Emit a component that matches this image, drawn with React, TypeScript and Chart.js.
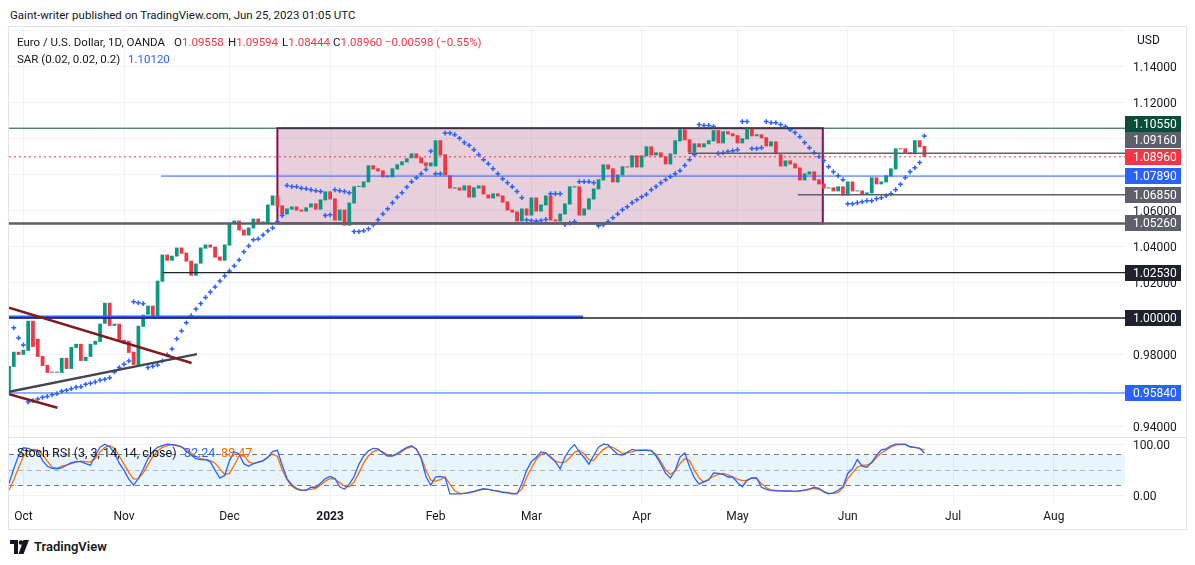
import React, { useEffect, useRef } from 'react';
import { Chart, registerables } from 'chart.js';

Chart.register(...registerables);

const FONT = 'Roboto, "Liberation Sans", sans-serif';

// ---- Candle data (daily bars, Sep 28 2022 -> Jun 23 2023), x = bar index ----
const candleOpen = [
  0.9584, 0.9729, 0.9813, 0.9796, 0.9818, 0.9985, 0.9885, 0.9790, 0.9740, 0.9703,
  0.9697, 0.9696, 0.9779, 0.9718, 0.9835, 0.9857, 0.9762, 0.9785, 0.9852, 0.9868,
  0.9969, 1.0085, 0.9957, 0.9969, 0.9879, 0.9874, 0.9813, 0.9740, 0.9952, 1.0019,
  1.0069, 1.0002, 1.0202, 1.0353, 1.0319, 1.0342, 1.0392, 1.0364, 1.0319, 1.0236,
  1.0303, 1.0386, 1.0409, 1.0397, 1.0342, 1.0319, 1.0403, 1.0526, 1.0542, 1.0492,
  1.0459, 1.0498, 1.0553, 1.0526, 1.0526, 1.0626, 1.0681, 1.0626, 1.0576, 1.0603,
  1.0620, 1.0603, 1.0592, 1.0615, 1.0637, 1.0603, 1.0654, 1.0704, 1.0665, 1.0542,
  1.0603, 1.0514, 1.0637, 1.0729, 1.0726, 1.0754, 1.0849, 1.0832, 1.0821, 1.0782,
  1.0782, 1.0826, 1.0849, 1.0865, 1.0888, 1.0915, 1.0893, 1.0865, 1.0843, 1.0843,
  1.0988, 1.0910, 1.0793, 1.0720, 1.0726, 1.0709, 1.0737, 1.0670, 1.0720, 1.0737,
  1.0687, 1.0665, 1.0693, 1.0681, 1.0648, 1.0603, 1.0592, 1.0537, 1.0609, 1.0570,
  1.0670, 1.0592, 1.0626, 1.0681, 1.0548, 1.0537, 1.0576, 1.0631, 1.0726, 1.0732,
  1.0570, 1.0603, 1.0659, 1.0715, 1.0765, 1.0854, 1.0832, 1.0754, 1.0793, 1.0843,
  1.0837, 1.0904, 1.0837, 1.0899, 1.0954, 1.0904, 1.0921, 1.0899, 1.0854, 1.0910,
  1.0982, 1.1049, 1.0993, 1.0921, 1.0971, 1.0949, 1.0966, 1.0982, 1.1044, 1.0971,
  1.1038, 1.1027, 1.1016, 1.0971, 1.0993, 1.1060, 1.1010, 1.1021, 1.1005, 1.0954,
  1.0982, 1.0910, 1.0843, 1.0876, 1.0860, 1.0837, 1.0765, 1.0798, 1.0815, 1.0771,
  1.0748, 1.0720, 1.0726, 1.0704, 1.0732, 1.0681, 1.0759, 1.0704, 1.0709, 1.0687,
  1.0693, 1.0782, 1.0743, 1.0754, 1.0787, 1.0826, 1.0943, 1.0943, 1.0921, 1.0910,
  1.0988, 1.09558,
];

const candleClose = [
  0.9734, 0.9813, 0.9796, 0.9824, 0.9985, 0.9840, 0.9785, 0.9734, 0.9696, 0.9697,
  0.9703, 0.9779, 0.9718, 0.9840, 0.9857, 0.9762, 0.9785, 0.9857, 0.9874, 0.9969,
  1.0085, 0.9957, 0.9969, 0.9879, 0.9857, 0.9807, 0.9740, 0.9957, 1.0019, 1.0069,
  1.0002, 1.0208, 1.0353, 1.0319, 1.0347, 1.0392, 1.0358, 1.0314, 1.0236, 1.0303,
  1.0392, 1.0409, 1.0392, 1.0336, 1.0319, 1.0409, 1.0526, 1.0542, 1.0487, 1.0459,
  1.0503, 1.0553, 1.0526, 1.0537, 1.0631, 1.0681, 1.0620, 1.0576, 1.0609, 1.0620,
  1.0598, 1.0592, 1.0615, 1.0637, 1.0603, 1.0659, 1.0704, 1.0659, 1.0542, 1.0603,
  1.0514, 1.0642, 1.0732, 1.0734, 1.0759, 1.0849, 1.0826, 1.0815, 1.0782, 1.0793,
  1.0832, 1.0854, 1.0871, 1.0888, 1.0915, 1.0888, 1.0860, 1.0843, 1.0865, 1.0988,
  1.0904, 1.0793, 1.0720, 1.0726, 1.0709, 1.0737, 1.0670, 1.0726, 1.0737, 1.0687,
  1.0665, 1.0693, 1.0676, 1.0642, 1.0598, 1.0587, 1.0537, 1.0609, 1.0570, 1.0670,
  1.0592, 1.0631, 1.0681, 1.0542, 1.0537, 1.0581, 1.0637, 1.0732, 1.0732, 1.0570,
  1.0609, 1.0665, 1.0720, 1.0771, 1.0854, 1.0826, 1.0754, 1.0798, 1.0843, 1.0837,
  1.0904, 1.0837, 1.0904, 1.0954, 1.0904, 1.0921, 1.0893, 1.0854, 1.0915, 1.0988,
  1.1049, 1.0988, 1.0921, 1.0971, 1.0949, 1.0971, 1.0988, 1.1044, 1.0971, 1.1038,
  1.1021, 1.1010, 1.0971, 1.0999, 1.1060, 1.1010, 1.1021, 1.0999, 1.0954, 1.0982,
  1.0910, 1.0843, 1.0876, 1.0854, 1.0832, 1.0765, 1.0804, 1.0815, 1.0765, 1.0743,
  1.0720, 1.0726, 1.0704, 1.0732, 1.0681, 1.0759, 1.0704, 1.0709, 1.0687, 1.0698,
  1.0782, 1.0743, 1.0759, 1.0793, 1.0832, 1.0943, 1.0938, 1.0915, 1.0910, 1.0988,
  1.0949, 1.0896,
];

// Parabolic SAR (0.02, 0.02, 0.2)
const sarValues = [
  null, 0.9946, 0.9890, 0.9851, 0.9534, 0.9542, 0.9550, 0.9560, 0.9565, 0.9574,
  0.9580, 0.9593, 0.9599, 0.9608, 0.9616, 0.9619, 0.9632, 0.9638, 0.9645, 0.9655,
  0.9660, 0.9669, 0.9701, 0.9725, 0.9744, 0.9762, 1.0091, 1.0085, 1.0080, 0.9725,
  0.9733, 0.9740, 0.9762, 0.9796, 0.9829, 0.9885, 0.9929, 0.9974, 1.0013, 1.0050,
  1.0081, 1.0115, 1.0145, 1.0173, 1.0206, 1.0234, 1.0262, 1.0290, 1.0323, 1.0368,
  1.0401, 1.0435, 1.0440, 1.0462, 1.0485, 1.0501, 1.0536, 1.0570, 1.0737, 1.0731,
  1.0730, 1.0722, 1.0719, 1.0713, 1.0708, 1.0704, 1.0570, 1.0574, 1.0713, 1.0708,
  1.0704, 1.0696, 1.0481, 1.0481, 1.0486, 1.0496, 1.0518, 1.0546, 1.0579, 1.0607,
  1.0641, 1.0672, 1.0696, 1.0728, 1.0758, 1.0780, 1.0802, 1.0826, 1.0928, 1.0802,
  1.0802, 1.1028, 1.1028, 1.1019, 1.0999, 1.0975, 1.0960, 1.0936, 1.0908, 1.0880,
  1.0858, 1.0830, 1.0802, 1.0774, 1.0752, 1.0730, 1.0704, 1.0669, 1.0546, 1.0542,
  1.0538, 1.0542, 1.0548, 1.0691, 1.0691, 1.0691, 1.0520, 1.0528, 1.0536, 1.0758,
  1.0758, 1.0758, 1.0752, 1.0513, 1.0518, 1.0536, 1.0557, 1.0579, 1.0602, 1.0618,
  1.0641, 1.0657, 1.0674, 1.0687, 1.0713, 1.0731, 1.0752, 1.0769, 1.0786, 1.0802,
  1.0819, 1.0848, 1.0880, 1.0908, 1.1075, 1.1070, 1.1070, 1.1064, 1.0915, 1.0919,
  1.0925, 1.0930, 1.0936, 1.1092, 1.1092, 1.0942, 1.0942, 1.0947, 1.1092, 1.1086,
  1.1086, 1.1075, 1.1064, 1.1047, 1.1031, 1.1008, 1.0975, 1.0947, 1.0919, 1.0897,
  1.0875, 1.0841, 1.0813, 1.0791, 1.0769, 1.0635, 1.0635, 1.0641, 1.0646, 1.0652,
  1.0652, 1.0663, 1.0669, 1.0680, 1.0691, 1.0713, 1.0743, 1.0780, 1.0813, 1.0836,
  1.0864, 1.1012,
];

// Stoch RSI (3, 3, 14, 14, close)
const stochK = [
  23, 52, 78, 93, 92, 88, 86, 68, 57, 53,
  52, 54, 59, 64, 66, 66, 62, 59, 78, 94,
  100, 95, 83, 63, 49, 32, 20, 33, 51, 72,
  86, 94, 97, 100, 99, 97, 95, 86, 79, 72,
  70, 70, 66, 49, 34, 39, 68, 85, 81, 62,
  57, 62, 65, 68, 74, 86, 88, 59, 33, 21,
  14, 10, 10, 16, 16, 24, 33, 37, 33, 17,
  12, 22, 37, 61, 77, 87, 92, 91, 83, 77,
  77, 82, 88, 94, 97, 90, 72, 37, 20, 36,
  37, 35, 3, 3, 3, 4, 6, 8, 11, 13,
  12, 10, 8, 6, 5, 3, 3, 23, 49, 66,
  74, 85, 83, 74, 66, 52, 75, 90, 99, 85,
  74, 61, 78, 94, 100, 99, 89, 80, 79, 84,
  90, 88, 88, 88, 87, 77, 61, 43, 34, 49,
  75, 83, 56, 34, 22, 27, 30, 44, 43, 41,
  36, 36, 25, 17, 30, 34, 34, 16, 12, 10,
  9, 9, 9, 9, 8, 9, 10, 12, 16, 14,
  7, 3, 5, 10, 17, 43, 52, 70, 57, 55,
  65, 78, 89, 91, 97, 100, 100, 100, 95, 94,
  92, 82.24,
];

const stochD = [
  10, 30, 54, 76, 86, 90, 89, 80, 67, 55,
  53, 57, 59, 62, 65, 67, 66, 65, 72, 85,
  94, 97, 92, 77, 61, 45, 32, 33, 44, 60,
  76, 87, 94, 97, 99, 98, 95, 90, 83, 76,
  72, 70, 68, 63, 52, 41, 43, 59, 77, 78,
  66, 62, 65, 67, 75, 81, 76, 50, 31, 18,
  12, 10, 11, 12, 14, 20, 28, 33, 32, 25,
  18, 17, 26, 44, 63, 77, 86, 89, 85, 79,
  78, 80, 86, 92, 95, 91, 74, 49, 30, 28,
  31, 36, 22, 9, 4, 4, 5, 7, 10, 12,
  12, 10, 9, 7, 6, 4, 4, 12, 35, 53,
  70, 80, 83, 76, 67, 64, 65, 73, 84, 88,
  81, 70, 68, 80, 90, 95, 94, 88, 82, 83,
  85, 88, 89, 89, 88, 80, 66, 50, 41, 48,
  62, 72, 68, 50, 34, 26, 32, 37, 41, 43,
  40, 36, 32, 29, 29, 34, 33, 23, 15, 11,
  10, 9, 8, 8, 8, 9, 11, 13, 14, 12,
  8, 4, 4, 6, 15, 33, 44, 55, 59, 59,
  63, 74, 83, 89, 94, 98, 99, 99, 95, 94,
  92, 88.47,
];

// Time axis (bar index of the first bar of each month)
const monthTickPos = [3, 24, 46, 67, 89, 109, 132, 152, 175, 197, 218];
const monthTickLabels = ['Oct', 'Nov', 'Dec', '2023', 'Feb', 'Mar', 'Apr', 'May', 'Jun', 'Jul', 'Aug'];

// Price axis
const priceTicks = [0.94, 0.96, 0.98, 1.0, 1.02, 1.04, 1.06, 1.08, 1.1, 1.12, 1.14, 1.16];
const priceTicksLabelled = [0.94, 0.98, 1.02, 1.04, 1.06, 1.12, 1.14];
const rsiTicks = [0, 100];

// Horizontal levels drawn on the chart (price, first bar, last bar)
const levelValues = [1.1055, 1.0916, 1.0896, 1.0789, 1.0685, 1.0526, 1.0253, 1.0, 0.9584];
const levelFrom = [0, 141.7, 0, 31.7, 164.6, 0, 32.1, 0, 0];
const levelTo = [232.85, 232.85, 232.85, 232.85, 232.85, 232.85, 232.85, 232.85, 232.85];
const lastPrice = 1.0896;

// Blue support segment near parity
const supportValue = 1.0006;
const supportFrom = 0;
const supportTo = 119.8;

// Trend lines: [x0, y0, x1, y1]
const trendX0 = [0, 0, 0];
const trendY0 = [1.0058, 0.9591, 0.9577];
const trendX1 = [38.1, 39.2, 10.1];
const trendY1 = [0.9751, 0.98, 0.9502];

// Range box
const boxX = [56.0, 169.8];
const boxY = [1.0526, 1.1055];

// Styles
const UP = '#089981';
const DOWN = '#f23645';
const BLUE = '#2962ff';
const ORANGE = '#ff6d00';
const levelColors = ['#0b4d3b', '#5d606b', '#f23645', '#2962ff', '#5d606b', '#5d606b', '#1e222d', '#1e222d', '#2962ff'];
const levelWidths = [1, 1.5, 1, 1, 1.5, 2.5, 1.2, 1.5, 1];
const levelDash = [[], [], [2, 3], [], [], [], [], [], []];
const trendColors = ['#7f1d1d', '#434651', '#7f1d1d'];

const X_MIN = 0;
const X_MAX = 232.85;
const Y_MIN = 0.93395;
const Y_MAX = 1.16228;
const RSI_MIN = -16.7;
const RSI_MAX = 112.1;
const AXIS_W = 62;
const LABEL_H = 16.5;

const xAfterFit = (h: number) => (s: any) => {
  s.height = h;
  s.paddingLeft = 0;
  s.paddingRight = 0;
};
const yAfterFit = (s: any) => {
  s.width = AXIS_W;
  s.paddingTop = 0;
  s.paddingBottom = 0;
};

const boxPlugin = {
  id: 'rangeBox',
  beforeDatasetsDraw(chart: any) {
    const { ctx, scales } = chart;
    const x0 = scales.x.getPixelForValue(boxX[0]);
    const x1 = scales.x.getPixelForValue(boxX[1]);
    const y0 = scales.y.getPixelForValue(boxY[1]);
    const y1 = scales.y.getPixelForValue(boxY[0]);
    ctx.save();
    ctx.fillStyle = 'rgba(136, 14, 79, 0.2)';
    ctx.fillRect(x0, y0, x1 - x0, y1 - y0);
    ctx.strokeStyle = '#880e4f';
    ctx.lineWidth = 2;
    ctx.strokeRect(x0, y0, x1 - x0, y1 - y0);
    ctx.restore();
  },
};

const levelLabelPlugin = {
  id: 'levelLabels',
  afterDraw(chart: any) {
    const { ctx, scales, chartArea } = chart;
    const items = levelValues
      .map((v, i) => ({ i, v, y: scales.y.getPixelForValue(v) }))
      .sort((a, b) => a.y - b.y);
    const p = items.findIndex((it) => it.v === lastPrice);
    for (let k = p - 1; k >= 0; k--) items[k].y = Math.min(items[k].y, items[k + 1].y - LABEL_H);
    for (let k = p + 1; k < items.length; k++) items[k].y = Math.max(items[k].y, items[k - 1].y + LABEL_H);
    ctx.save();
    ctx.font = `12px ${FONT}`;
    ctx.textBaseline = 'middle';
    ctx.textAlign = 'left';
    items.forEach((it) => {
      const y = Math.round(it.y);
      ctx.fillStyle = levelColors[it.i];
      ctx.fillRect(chartArea.right, y - 8, 56, 16);
      ctx.fillStyle = '#ffffff';
      ctx.fillText(it.v.toFixed(5), chartArea.right + 8, y + 1);
    });
    ctx.restore();
  },
};

const rsiBandPlugin = {
  id: 'rsiBand',
  beforeDatasetsDraw(chart: any) {
    const { ctx, scales, chartArea } = chart;
    const y80 = scales.y.getPixelForValue(80);
    const y50 = scales.y.getPixelForValue(50);
    const y20 = scales.y.getPixelForValue(20);
    ctx.save();
    ctx.fillStyle = 'rgba(33, 150, 243, 0.1)';
    ctx.fillRect(chartArea.left, y80, chartArea.right - chartArea.left, y20 - y80);
    ctx.lineWidth = 1;
    ctx.setLineDash([5, 4]);
    [[y80, '#787b86'], [y50, '#b2b5be'], [y20, '#787b86']].forEach(([y, c]: any) => {
      ctx.strokeStyle = c;
      ctx.beginPath();
      ctx.moveTo(chartArea.left, Math.round(y) + 0.5);
      ctx.lineTo(chartArea.right, Math.round(y) + 0.5);
      ctx.stroke();
    });
    ctx.restore();
  },
};

function mainConfig(): any {
  const candles = candleOpen.map((o, i) => ({ x: i, y: [o, candleClose[i]] }));
  const candleColors = candleOpen.map((o, i) => (candleClose[i] >= o ? UP : DOWN));
  const sar = sarValues.map((v, i) => ({ x: i, y: v }));

  const lineSets: any[] = [];
  levelValues.forEach((v, i) => {
    lineSets.push({
      type: 'line',
      data: [{ x: levelFrom[i], y: v }, { x: levelTo[i], y: v }],
      borderColor: levelColors[i],
      borderWidth: levelWidths[i],
      borderDash: levelDash[i],
      pointRadius: 0,
      order: 1,
    });
  });
  lineSets.push({
    type: 'line',
    data: [{ x: supportFrom, y: supportValue }, { x: supportTo, y: supportValue }],
    borderColor: BLUE,
    borderWidth: 3,
    pointRadius: 0,
    order: 2,
  });
  trendX0.forEach((x0, i) => {
    lineSets.push({
      type: 'line',
      data: [{ x: x0, y: trendY0[i] }, { x: trendX1[i], y: trendY1[i] }],
      borderColor: trendColors[i],
      borderWidth: 2.5,
      pointRadius: 0,
      order: 0,
    });
  });

  return {
    type: 'bar',
    data: {
      datasets: [
        ...lineSets,
        {
          type: 'line',
          data: sar,
          showLine: false,
          pointStyle: 'cross',
          pointRadius: 2.4,
          pointBorderWidth: 1.5,
          pointBorderColor: BLUE,
          pointBackgroundColor: BLUE,
          order: 3,
        },
        {
          type: 'bar',
          data: candles,
          backgroundColor: candleColors,
          borderWidth: 0,
          barPercentage: 0.78,
          categoryPercentage: 1,
          minBarLength: 1,
          order: 5,
        },
      ],
    },
    options: {
      animation: false,
      responsive: false,
      maintainAspectRatio: false,
      layout: { padding: 0, autoPadding: false },
      events: [],
      plugins: { legend: { display: false }, tooltip: { enabled: false } },
      scales: {
        x: {
          type: 'linear',
          min: X_MIN,
          max: X_MAX,
          offset: false,
          grid: { color: '#f0f3fa', drawTicks: false, offset: false },
          border: { display: false },
          ticks: { display: false },
          afterBuildTicks: (s: any) => {
            s.ticks = monthTickPos.map((v) => ({ value: v }));
          },
          afterFit: xAfterFit(0),
        },
        y: {
          type: 'linear',
          position: 'right',
          min: Y_MIN,
          max: Y_MAX,
          grid: { color: '#f0f3fa', drawTicks: false },
          border: { display: false },
          ticks: {
            padding: 8,
            labelOffset: 2,
            color: '#131722',
            font: { family: FONT, size: 12 },
            callback: (v: any) => (priceTicksLabelled.some((t) => Math.abs(t - v) < 1e-6) ? Number(v).toFixed(5) : ''),
          },
          afterBuildTicks: (s: any) => {
            s.ticks = priceTicks.map((v) => ({ value: v }));
          },
          afterFit: yAfterFit,
        },
      },
    },
    plugins: [boxPlugin, levelLabelPlugin],
  };
}

function rsiConfig(): any {
  return {
    type: 'line',
    data: {
      datasets: [
        {
          data: stochK.map((v, i) => ({ x: i, y: v })),
          borderColor: BLUE,
          borderWidth: 1.3,
          pointRadius: 0,
          tension: 0,
        },
        {
          data: stochD.map((v, i) => ({ x: i, y: v })),
          borderColor: ORANGE,
          borderWidth: 1.3,
          pointRadius: 0,
          tension: 0,
        },
      ],
    },
    options: {
      animation: false,
      responsive: false,
      maintainAspectRatio: false,
      layout: { padding: 0, autoPadding: false },
      events: [],
      plugins: { legend: { display: false }, tooltip: { enabled: false } },
      scales: {
        x: {
          type: 'linear',
          min: X_MIN,
          max: X_MAX,
          offset: false,
          grid: { color: '#f0f3fa', drawTicks: false },
          border: { display: false },
          ticks: {
            autoSkip: false,
            maxRotation: 0,
            padding: 6,
            color: '#131722',
            font: (c: any) => ({
              family: FONT,
              size: 12,
              weight: c.tick && c.tick.value === monthTickPos[3] ? 'bold' : 'normal',
            }),
            callback: (v: any) => {
              const k = monthTickPos.indexOf(Number(v));
              return k >= 0 ? monthTickLabels[k] : '';
            },
          },
          afterBuildTicks: (s: any) => {
            s.ticks = monthTickPos.map((v) => ({ value: v }));
          },
          afterFit: xAfterFit(25),
        },
        y: {
          type: 'linear',
          position: 'right',
          min: RSI_MIN,
          max: RSI_MAX,
          grid: { color: '#f0f3fa', drawTicks: false },
          border: { display: false },
          ticks: {
            padding: 8,
            labelOffset: 2,
            color: '#131722',
            font: { family: FONT, size: 12 },
            callback: (v: any) => Number(v).toFixed(2),
          },
          afterBuildTicks: (s: any) => {
            s.ticks = rsiTicks.map((v) => ({ value: v }));
          },
          afterFit: yAfterFit,
        },
      },
    },
    plugins: [rsiBandPlugin],
  };
}

const abs = (left: number, top: number, extra: any = {}): any => ({
  position: 'absolute',
  left,
  top,
  whiteSpace: 'nowrap',
  lineHeight: '16px',
  ...extra,
});

export default function App() {
  const mainRef = useRef<HTMLCanvasElement>(null);
  const rsiRef = useRef<HTMLCanvasElement>(null);

  useEffect(() => {
    const main = new Chart(mainRef.current as HTMLCanvasElement, mainConfig());
    const rsi = new Chart(rsiRef.current as HTMLCanvasElement, rsiConfig());
    return () => {
      main.destroy();
      rsi.destroy();
    };
  }, []);

  const red = { color: DOWN };
  return (
    <div
      style={{
        position: 'fixed',
        left: 0,
        top: 0,
        width: 1195,
        height: 565,
        background: '#ffffff',
        overflow: 'hidden',
        fontFamily: FONT,
        fontSize: 11.5,
        color: '#131722',
      }}
    >
      <div style={abs(10, 7)}>Gaint-writer published on TradingView.com, Jun 25, 2023 01:05 UTC</div>

      <div style={{ position: 'absolute', left: 8, top: 26, width: 1179, height: 504, border: '1px solid #e0e3eb', boxSizing: 'border-box' }} />

      <canvas ref={mainRef} width={1178} height={411} style={{ position: 'absolute', left: 9, top: 26, width: 1178, height: 411 }} />
      <div style={{ position: 'absolute', left: 9, top: 437, width: 1177, height: 1, background: '#e0e3eb' }} />
      <canvas ref={rsiRef} width={1178} height={91} style={{ position: 'absolute', left: 9, top: 438, width: 1178, height: 91 }} />

      <div style={abs(17, 34)}>Euro / U.S. Dollar, 1D, OANDA</div>
      <div style={abs(174, 34)}>O<span style={red}>1.09558</span></div>
      <div style={abs(228, 34)}>H<span style={red}>1.09594</span></div>
      <div style={abs(282, 34)}>L<span style={red}>1.08444</span></div>
      <div style={abs(333, 34)}>C<span style={red}>1.08960</span></div>
      <div style={abs(385, 34, red)}>−0.00598 (−0.55%)</div>
      <div style={abs(17, 51)}>SAR (0.02, 0.02, 0.2)</div>
      <div style={abs(128, 51, { color: BLUE })}>1.10120</div>
      <div style={abs(1137, 32, { fontSize: 12 })}>USD</div>

      <div style={abs(17, 445, { fontSize: 12.5 })}>Stoch RSI (3, 3, 14, 14, close)</div>
      <div style={abs(184, 445, { color: BLUE, fontSize: 12.5 })}>82.24</div>
      <div style={abs(221, 445, { color: ORANGE, fontSize: 12.5 })}>88.47</div>

      <div style={{ position: 'absolute', left: 10, top: 540, display: 'flex', alignItems: 'center' }}>
        <svg width="20" height="14" viewBox="0 0 20 14">
          <path d="M0 0 H8 V14 H4 V4 H0 Z" fill="#131722" />
          <circle cx="11" cy="2.5" r="2.3" fill="#131722" />
          <path d="M13.5 0 H19 L13.5 14 H8.5 Z" fill="#131722" />
        </svg>
        <span style={{ marginLeft: 4, fontSize: 13, fontWeight: 600, lineHeight: '14px' }}>TradingView</span>
      </div>
    </div>
  );
}
